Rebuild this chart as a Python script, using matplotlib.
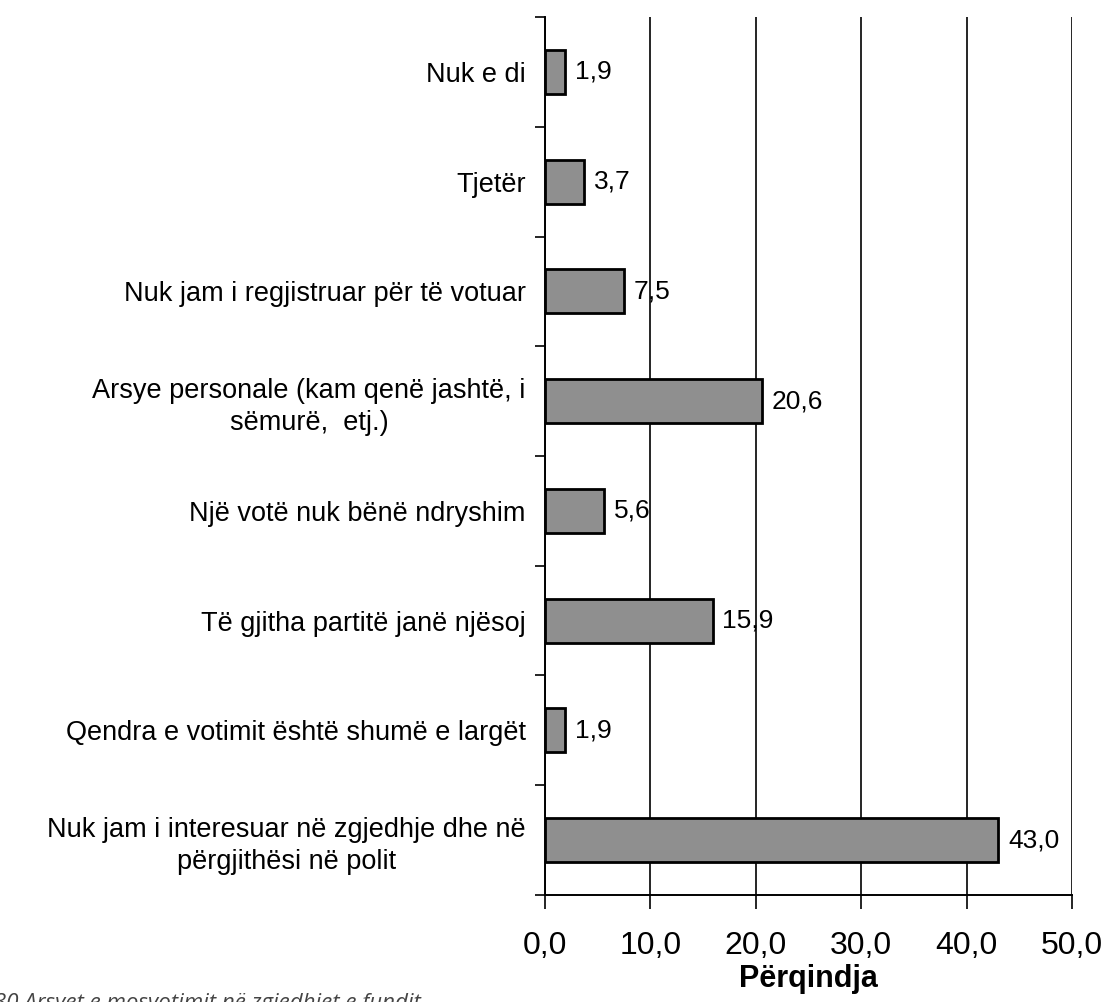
import matplotlib
matplotlib.use("Agg")
import matplotlib.pyplot as plt
from matplotlib.ticker import FixedLocator

categories = [
    "Nuk e di",
    "Tjetër",
    "Nuk jam i regjistruar për të votuar",
    "Arsye personale (kam qenë jashtë, i\nsëmurë,  etj.)",
    "Një votë nuk bënë ndryshim",
    "Të gjitha partitë janë njësoj",
    "Qendra e votimit është shumë e largët",
    "Nuk jam i interesuar në zgjedhje dhe në\npërgjithësi në polit",
]
values = [1.9, 3.7, 7.5, 20.6, 5.6, 15.9, 1.9, 43.0]
xticks = [0, 10, 20, 30, 40, 50]
xlabel = "Përqindja"
caption = "30 Arsyet e mosvotimit në zgjedhjet e fundit"

plt.rcParams['font.family'] = ['Liberation Sans', 'DejaVu Sans']

fig = plt.figure(figsize=(11.1, 10.02), dpi=100)
ax = fig.add_axes([0.491, 0.1068, 0.4748, 0.8762])

n = len(categories)
ypos = list(range(n))
ax.barh(ypos, values, height=0.4, color="#8f8f8f", edgecolor="black",
        linewidth=2, zorder=3)
ax.set_ylim(n - 0.5, -0.5)
ax.set_xlim(0, 50)

for y, v in zip(ypos, values):
    ax.annotate(f"{v:.1f}".replace(".", ","), xy=(v, y), xytext=(7, 0),
                textcoords="offset points", va="center", ha="left",
                fontsize=19, zorder=4)

ax.set_xticks(xticks)
ax.set_xticklabels([f"{t:.1f}".replace(".", ",") for t in xticks], fontsize=23)
ax.tick_params(axis="x", direction="out", length=10, width=1.2, pad=16)
ax.grid(axis="x", color="black", linewidth=1.2, zorder=1)

ax.yaxis.set_major_locator(FixedLocator(ypos))
ax.set_yticklabels(categories, fontsize=19.5, ha="right", multialignment="center",
                   linespacing=1.3)
ax.tick_params(axis="y", which="major", length=0, pad=14)
ax.yaxis.set_minor_locator(FixedLocator([i - 0.5 for i in range(n + 1)]))
ax.tick_params(axis="y", which="minor", direction="out", length=7, width=1.2)

for s in ["top", "right"]:
    ax.spines[s].set_visible(False)
ax.spines["left"].set_linewidth(1.4)
ax.spines["bottom"].set_linewidth(1.4)

ax.set_xlabel(xlabel, fontsize=22, fontweight="bold", labelpad=2)

fig.text(-0.005, -0.012, caption, fontsize=16, style="italic", color="#444444",
         family=["Open Sans", "DejaVu Sans"], ha="left", va="bottom")

fig.savefig("out.png", dpi=100)
